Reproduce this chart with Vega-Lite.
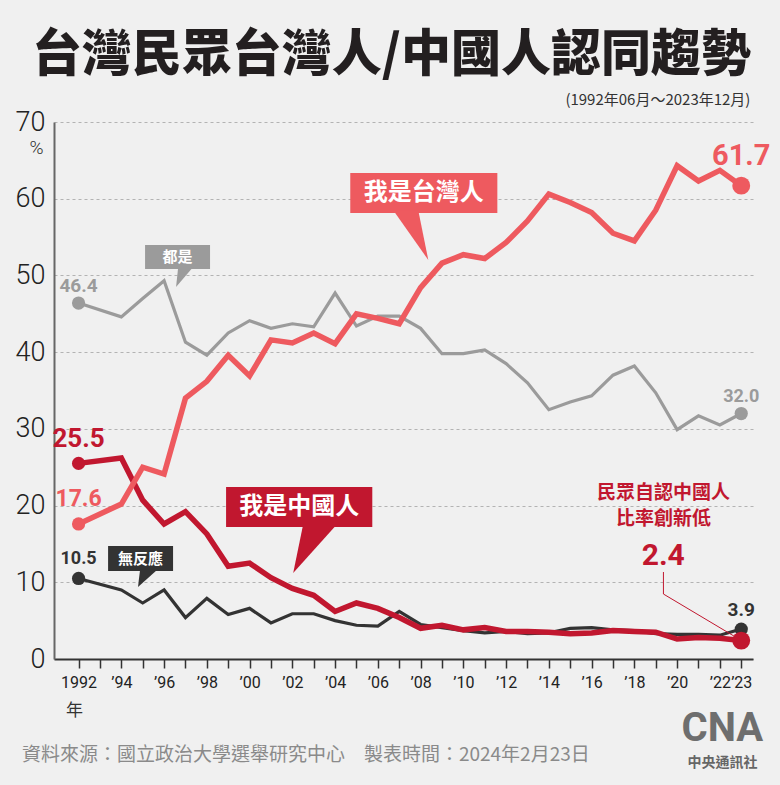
{
  "$schema": "https://vega.github.io/schema/vega-lite/v6.json",
  "width": 699,
  "height": 537,
  "autosize": {"type": "none"},
  "padding": {"left": 54, "top": 122, "right": 27, "bottom": 126},
  "background": "#f0f0f0",
  "config": {"view": {"stroke": null}, "font": "Noto Sans CJK TC"},
  "title": {
    "text": "台灣民眾台灣人/中國人認同趨勢",
    "font": "Noto Sans CJK TC",
    "fontSize": 50,
    "fontWeight": 900,
    "color": "#231f20",
    "anchor": "middle",
    "frame": "group",
    "dx": -12,
    "offset": 12
  },
  "datasets": {
    "callouts": [
      {"series": "台灣人", "label": "我是台灣人", "start": 2004.71, "end": 2011.59, "top": 63.36, "bottom": 58.14, "year": 2008.15, "pct": 60.75},
      {"series": "中國人", "label": "我是中國人", "start": 1998.9, "end": 2005.74, "top": 22.42, "bottom": 17.21, "year": 2002.32, "pct": 19.81},
      {"series": "都是", "label": "都是", "start": 1995.11, "end": 1998.15, "top": 53.97, "bottom": 50.84, "year": 1996.63, "pct": 52.4},
      {"series": "無反應", "label": "無反應", "start": 1993.38, "end": 1996.42, "top": 14.73, "bottom": 11.47, "year": 1994.9, "pct": 13.1}
    ],
    "pointers": [
      {"series": "台灣人", "i": 1, "year": 2006.72, "pct": 58.5},
      {"series": "台灣人", "i": 2, "year": 2007.89, "pct": 58.5},
      {"series": "台灣人", "i": 3, "year": 2008.36, "pct": 52.01},
      {"series": "中國人", "i": 1, "year": 2002.51, "pct": 17.6},
      {"series": "中國人", "i": 2, "year": 2004.1, "pct": 17.6},
      {"series": "中國人", "i": 3, "year": 2002.04, "pct": 11.21},
      {"series": "都是", "i": 1, "year": 1996.66, "pct": 51.1},
      {"series": "都是", "i": 2, "year": 1997.36, "pct": 51.1},
      {"series": "都是", "i": 3, "year": 1996.56, "pct": 48.49},
      {"series": "無反應", "i": 1, "year": 1994.88, "pct": 11.73},
      {"series": "無反應", "i": 2, "year": 1995.72, "pct": 11.73},
      {"series": "無反應", "i": 3, "year": 1994.78, "pct": 9.39}
    ]
  },
  "data": {
    "values": [
      {"year": 1992, "series": "都是", "pct": 46.4}, {"year": 1992, "series": "無反應", "pct": 10.5}, {"year": 1992, "series": "中國人", "pct": 25.5}, {"year": 1992, "series": "台灣人", "pct": 17.6},
      {"year": 1994, "series": "都是", "pct": 44.6}, {"year": 1994, "series": "無反應", "pct": 9.0}, {"year": 1994, "series": "中國人", "pct": 26.2}, {"year": 1994, "series": "台灣人", "pct": 20.2},
      {"year": 1995, "series": "都是", "pct": 47.0}, {"year": 1995, "series": "無反應", "pct": 7.3}, {"year": 1995, "series": "中國人", "pct": 20.7}, {"year": 1995, "series": "台灣人", "pct": 25.0},
      {"year": 1996, "series": "都是", "pct": 49.3}, {"year": 1996, "series": "無反應", "pct": 9.0}, {"year": 1996, "series": "中國人", "pct": 17.6}, {"year": 1996, "series": "台灣人", "pct": 24.1},
      {"year": 1997, "series": "都是", "pct": 41.3}, {"year": 1997, "series": "無反應", "pct": 5.4}, {"year": 1997, "series": "中國人", "pct": 19.2}, {"year": 1997, "series": "台灣人", "pct": 34.0},
      {"year": 1998, "series": "都是", "pct": 39.6}, {"year": 1998, "series": "無反應", "pct": 7.9}, {"year": 1998, "series": "中國人", "pct": 16.3}, {"year": 1998, "series": "台灣人", "pct": 36.2},
      {"year": 1999, "series": "都是", "pct": 42.5}, {"year": 1999, "series": "無反應", "pct": 5.8}, {"year": 1999, "series": "中國人", "pct": 12.1}, {"year": 1999, "series": "台灣人", "pct": 39.6},
      {"year": 2000, "series": "都是", "pct": 44.1}, {"year": 2000, "series": "無反應", "pct": 6.6}, {"year": 2000, "series": "中國人", "pct": 12.5}, {"year": 2000, "series": "台灣人", "pct": 36.9},
      {"year": 2001, "series": "都是", "pct": 43.1}, {"year": 2001, "series": "無反應", "pct": 4.7}, {"year": 2001, "series": "中國人", "pct": 10.6}, {"year": 2001, "series": "台灣人", "pct": 41.6},
      {"year": 2002, "series": "都是", "pct": 43.7}, {"year": 2002, "series": "無反應", "pct": 5.9}, {"year": 2002, "series": "中國人", "pct": 9.2}, {"year": 2002, "series": "台灣人", "pct": 41.2},
      {"year": 2003, "series": "都是", "pct": 43.3}, {"year": 2003, "series": "無反應", "pct": 5.9}, {"year": 2003, "series": "中國人", "pct": 8.3}, {"year": 2003, "series": "台灣人", "pct": 42.5},
      {"year": 2004, "series": "都是", "pct": 47.7}, {"year": 2004, "series": "無反應", "pct": 5.0}, {"year": 2004, "series": "中國人", "pct": 6.2}, {"year": 2004, "series": "台灣人", "pct": 41.1},
      {"year": 2005, "series": "都是", "pct": 43.4}, {"year": 2005, "series": "無反應", "pct": 4.4}, {"year": 2005, "series": "中國人", "pct": 7.3}, {"year": 2005, "series": "台灣人", "pct": 45.0},
      {"year": 2006, "series": "都是", "pct": 44.7}, {"year": 2006, "series": "無反應", "pct": 4.3}, {"year": 2006, "series": "中國人", "pct": 6.6}, {"year": 2006, "series": "台灣人", "pct": 44.4},
      {"year": 2007, "series": "都是", "pct": 44.7}, {"year": 2007, "series": "無反應", "pct": 6.2}, {"year": 2007, "series": "中國人", "pct": 5.4}, {"year": 2007, "series": "台灣人", "pct": 43.7},
      {"year": 2008, "series": "都是", "pct": 43.1}, {"year": 2008, "series": "無反應", "pct": 4.5}, {"year": 2008, "series": "中國人", "pct": 4.0}, {"year": 2008, "series": "台灣人", "pct": 48.4},
      {"year": 2009, "series": "都是", "pct": 39.8}, {"year": 2009, "series": "無反應", "pct": 4.1}, {"year": 2009, "series": "中國人", "pct": 4.4}, {"year": 2009, "series": "台灣人", "pct": 51.6},
      {"year": 2010, "series": "都是", "pct": 39.8}, {"year": 2010, "series": "無反應", "pct": 3.7}, {"year": 2010, "series": "中國人", "pct": 3.8}, {"year": 2010, "series": "台灣人", "pct": 52.7},
      {"year": 2011, "series": "都是", "pct": 40.3}, {"year": 2011, "series": "無反應", "pct": 3.4}, {"year": 2011, "series": "中國人", "pct": 4.1}, {"year": 2011, "series": "台灣人", "pct": 52.2},
      {"year": 2012, "series": "都是", "pct": 38.5}, {"year": 2012, "series": "無反應", "pct": 3.6}, {"year": 2012, "series": "中國人", "pct": 3.6}, {"year": 2012, "series": "台灣人", "pct": 54.3},
      {"year": 2013, "series": "都是", "pct": 36.0}, {"year": 2013, "series": "無反應", "pct": 3.3}, {"year": 2013, "series": "中國人", "pct": 3.6}, {"year": 2013, "series": "台灣人", "pct": 57.1},
      {"year": 2014, "series": "都是", "pct": 32.5}, {"year": 2014, "series": "無反應", "pct": 3.4}, {"year": 2014, "series": "中國人", "pct": 3.5}, {"year": 2014, "series": "台灣人", "pct": 60.6},
      {"year": 2015, "series": "都是", "pct": 33.5}, {"year": 2015, "series": "無反應", "pct": 4.0}, {"year": 2015, "series": "中國人", "pct": 3.3}, {"year": 2015, "series": "台灣人", "pct": 59.5},
      {"year": 2016, "series": "都是", "pct": 34.3}, {"year": 2016, "series": "無反應", "pct": 4.1}, {"year": 2016, "series": "中國人", "pct": 3.4}, {"year": 2016, "series": "台灣人", "pct": 58.2},
      {"year": 2017, "series": "都是", "pct": 37.0}, {"year": 2017, "series": "無反應", "pct": 3.8}, {"year": 2017, "series": "中國人", "pct": 3.7}, {"year": 2017, "series": "台灣人", "pct": 55.5},
      {"year": 2018, "series": "都是", "pct": 38.2}, {"year": 2018, "series": "無反應", "pct": 3.7}, {"year": 2018, "series": "中國人", "pct": 3.6}, {"year": 2018, "series": "台灣人", "pct": 54.5},
      {"year": 2019, "series": "都是", "pct": 34.7}, {"year": 2019, "series": "無反應", "pct": 3.3}, {"year": 2019, "series": "中國人", "pct": 3.5}, {"year": 2019, "series": "台灣人", "pct": 58.5},
      {"year": 2020, "series": "都是", "pct": 29.9}, {"year": 2020, "series": "無反應", "pct": 3.2}, {"year": 2020, "series": "中國人", "pct": 2.6}, {"year": 2020, "series": "台灣人", "pct": 64.3},
      {"year": 2021, "series": "都是", "pct": 31.7}, {"year": 2021, "series": "無反應", "pct": 3.2}, {"year": 2021, "series": "中國人", "pct": 2.8}, {"year": 2021, "series": "台灣人", "pct": 62.3},
      {"year": 2022, "series": "都是", "pct": 30.5}, {"year": 2022, "series": "無反應", "pct": 3.1}, {"year": 2022, "series": "中國人", "pct": 2.7}, {"year": 2022, "series": "台灣人", "pct": 63.7},
      {"year": 2023, "series": "都是", "pct": 32.0}, {"year": 2023, "series": "無反應", "pct": 3.9}, {"year": 2023, "series": "中國人", "pct": 2.4}, {"year": 2023, "series": "台灣人", "pct": 61.7}
    ]
  },
  "encoding": {
    "x": {
      "field": "year",
      "type": "quantitative",
      "title": "年",
      "scale": {"domain": [1990.85, 2023.55], "nice": false, "zero": false},
      "axis": {
        "values": [1992, 1993, 1994, 1995, 1996, 1997, 1998, 1999, 2000, 2001, 2002, 2003, 2004, 2005, 2006, 2007, 2008, 2009, 2010, 2011, 2012, 2013, 2014, 2015, 2016, 2017, 2018, 2019, 2020, 2021, 2022, 2023],
        "labelExpr": "datum.value == 1992 ? '1992' : (datum.value % 2 == 0 || datum.value == 2023) ? '’' + format(datum.value % 100, '02d') : ''",
        "labelOverlap": false,
        "labelFont": "Roboto",
        "labelFontSize": 16,
        "labelColor": "#222222",
        "labelPadding": 6,
        "grid": false,
        "domainColor": "#333333",
        "domainWidth": 2,
        "tickColor": "#333333",
        "tickWidth": 1.5,
        "tickSize": 9,
        "titleFont": "Noto Sans CJK TC",
        "titleFontSize": 17,
        "titleFontWeight": "normal",
        "titleColor": "#333333",
        "titleX": 20,
        "titleY": 51,
        "titleAlign": "center",
        "titleBaseline": "middle"
      }
    },
    "y": {
      "field": "pct",
      "type": "quantitative",
      "title": "%",
      "scale": {"domain": [0, 70], "nice": false},
      "axis": {
        "values": [0, 10, 20, 30, 40, 50, 60, 70],
        "grid": true,
        "gridDash": [3, 3],
        "gridColor": "#b3b3b3",
        "gridWidth": 1,
        "ticks": false,
        "domainColor": "#666666",
        "domainWidth": 2,
        "labelFont": "Roboto",
        "labelFontWeight": 300,
        "labelFontSize": 27,
        "labelColor": "#222222",
        "labelPadding": 9,
        "titleAngle": 0,
        "titleX": -18,
        "titleY": 25,
        "titleAlign": "center",
        "titleBaseline": "middle",
        "titleFont": "Roboto",
        "titleFontSize": 19,
        "titleFontWeight": 300,
        "titleColor": "#333333"
      }
    }
  },
  "layer": [
    {
      "transform": [{"filter": {"field": "series", "oneOf": ["都是", "無反應"]}}],
      "mark": {"type": "line", "strokeWidth": 3.2},
      "encoding": {
        "color": {"field": "series", "type": "nominal", "scale": {"domain": ["台灣人", "都是", "中國人", "無反應"], "range": ["#ee5a5f", "#9b9b9b", "#c1172f", "#333333"]}, "legend": null}
      }
    },
    {
      "transform": [{"filter": "datum.series == '中國人'"}],
      "mark": {"type": "line", "strokeWidth": 5.5, "color": "#c1172f"},
      "encoding": {}
    },
    {
      "transform": [{"filter": "datum.series == '台灣人'"}],
      "mark": {"type": "line", "strokeWidth": 5.5, "color": "#ee5a5f"},
      "encoding": {}
    },
    {
      "transform": [{"filter": "datum.year == 1992 || datum.year == 2023"}],
      "mark": {"type": "point", "filled": true, "opacity": 1},
      "encoding": {
        "color": {"field": "series", "type": "nominal", "scale": {"domain": ["台灣人", "都是", "中國人", "無反應"], "range": ["#ee5a5f", "#9b9b9b", "#c1172f", "#333333"]}, "legend": null},
        "size": {"condition": {"test": "datum.year == 2023 && (datum.series == '台灣人' || datum.series == '中國人')", "value": 320}, "value": 175}
      }
    },
    {
      "transform": [{"filter": "datum.year == 1992 && datum.series == '都是'"}],
      "mark": {"type": "text", "font": "Roboto", "fontWeight": "bold", "fontSize": 19, "dy": -17, "color": "#9b9b9b"},
      "encoding": {"text": {"field": "pct", "format": ".1f"}}
    },
    {
      "transform": [{"filter": "datum.year == 1992 && datum.series == '中國人'"}],
      "mark": {"type": "text", "font": "Roboto", "fontWeight": "bold", "fontSize": 26, "dy": -24, "color": "#c1172f"},
      "encoding": {"text": {"field": "pct", "format": ".1f"}}
    },
    {
      "transform": [{"filter": "datum.year == 1992 && datum.series == '台灣人'"}],
      "mark": {"type": "text", "font": "Roboto", "fontWeight": "bold", "fontSize": 23, "dy": -25, "color": "#ee5a5f"},
      "encoding": {"text": {"field": "pct", "format": ".1f"}}
    },
    {
      "transform": [{"filter": "datum.year == 1992 && datum.series == '無反應'"}],
      "mark": {"type": "text", "font": "Roboto", "fontWeight": "bold", "fontSize": 18, "dy": -19, "color": "#333333"},
      "encoding": {"text": {"field": "pct", "format": ".1f"}}
    },
    {
      "transform": [{"filter": "datum.year == 2023 && datum.series == '台灣人'"}],
      "mark": {"type": "text", "font": "Roboto", "fontWeight": "bold", "fontSize": 29, "dy": -30, "color": "#ee5a5f"},
      "encoding": {"text": {"field": "pct", "format": ".1f"}}
    },
    {
      "transform": [{"filter": "datum.year == 2023 && datum.series == '都是'"}],
      "mark": {"type": "text", "font": "Roboto", "fontWeight": "bold", "fontSize": 18, "dy": -17, "color": "#9b9b9b"},
      "encoding": {"text": {"field": "pct", "format": ".1f"}}
    },
    {
      "transform": [{"filter": "datum.year == 2023 && datum.series == '無反應'"}],
      "mark": {"type": "text", "font": "Roboto", "fontWeight": "bold", "fontSize": 19, "dy": -19, "color": "#333333"},
      "encoding": {"text": {"field": "pct", "format": ".1f"}}
    },
    {
      "transform": [{"filter": "datum.year == 2023 && datum.series == '中國人'"}],
      "mark": {"type": "text", "font": "Roboto", "fontWeight": "bold", "fontSize": 30, "dx": -78, "dy": -85, "color": "#c1172f"},
      "encoding": {"text": {"field": "pct", "format": ".1f"}}
    },
    {
      "data": {"values": [
        {"year": 2019.36, "pct": 11.34, "i": 1},
        {"year": 2019.36, "pct": 8.47, "i": 2},
        {"year": 2022.73, "pct": 2.87, "i": 3}
      ]},
      "mark": {"type": "line", "strokeWidth": 1, "color": "#c1172f"},
      "encoding": {"order": {"field": "i", "type": "quantitative"}}
    },
    {
      "data": {"values": [
        {"year": 2019.36, "pct": 21.6, "note": "民眾自認中國人"},
        {"year": 2019.36, "pct": 18.3, "note": "比率創新低"}
      ]},
      "mark": {"type": "text", "font": "Noto Sans CJK TC", "fontWeight": "bold", "fontSize": 19, "color": "#c1172f"},
      "encoding": {"text": {"field": "note"}}
    },
    {
      "data": {"name": "callouts"},
      "mark": {"type": "rect"},
      "encoding": {
        "x": {"field": "start", "type": "quantitative", "title": "年"},
        "x2": {"field": "end"},
        "y": {"field": "top", "type": "quantitative", "title": "%"},
        "y2": {"field": "bottom"},
        "color": {"field": "series", "type": "nominal", "scale": {"domain": ["台灣人", "都是", "中國人", "無反應"], "range": ["#ee5a5f", "#9b9b9b", "#c1172f", "#333333"]}, "legend": null}
      }
    },
    {
      "data": {"name": "pointers"},
      "mark": {"type": "line", "filled": true, "interpolate": "linear-closed"},
      "encoding": {
        "order": {"field": "i", "type": "quantitative"},
        "color": {"field": "series", "type": "nominal", "scale": {"domain": ["台灣人", "都是", "中國人", "無反應"], "range": ["#ee5a5f", "#9b9b9b", "#c1172f", "#333333"]}, "legend": null}
      }
    },
    {
      "data": {"name": "callouts"},
      "mark": {"type": "text", "font": "Noto Sans CJK TC", "fontWeight": "bold", "color": "#ffffff"},
      "encoding": {
        "text": {"field": "label"},
        "size": {"condition": {"test": "datum.series == '台灣人' || datum.series == '中國人'", "value": 24}, "value": 15}
      }
    },
    {
      "data": {"values": [{"year": 2023.43, "pct": 72.87, "note": "(1992年06月～2023年12月)"}]},
      "mark": {"type": "text", "align": "right", "font": "Noto Sans CJK TC", "fontSize": 15, "color": "#333333"},
      "encoding": {"text": {"field": "note"}}
    },
    {
      "data": {"values": [{"year": 1989.35, "pct": -12.5, "note": "資料來源：國立政治大學選舉研究中心　製表時間：2024年2月23日"}]},
      "mark": {"type": "text", "align": "left", "font": "Noto Sans CJK TC", "fontSize": 19, "color": "#8a8a8a"},
      "encoding": {"text": {"field": "note"}}
    },
    {
      "data": {"values": [{"year": 2022.12, "pct": -9.1, "note": "CNA"}]},
      "mark": {"type": "text", "font": "Roboto", "fontWeight": "bold", "fontSize": 40, "color": "#6e6e6e"},
      "encoding": {"text": {"field": "note"}}
    },
    {
      "data": {"values": [{"year": 2022.12, "pct": -13.5, "note": "中央通訊社"}]},
      "mark": {"type": "text", "font": "Noto Sans CJK TC", "fontWeight": "bold", "fontSize": 14, "color": "#666666"},
      "encoding": {"text": {"field": "note"}}
    }
  ]
}
